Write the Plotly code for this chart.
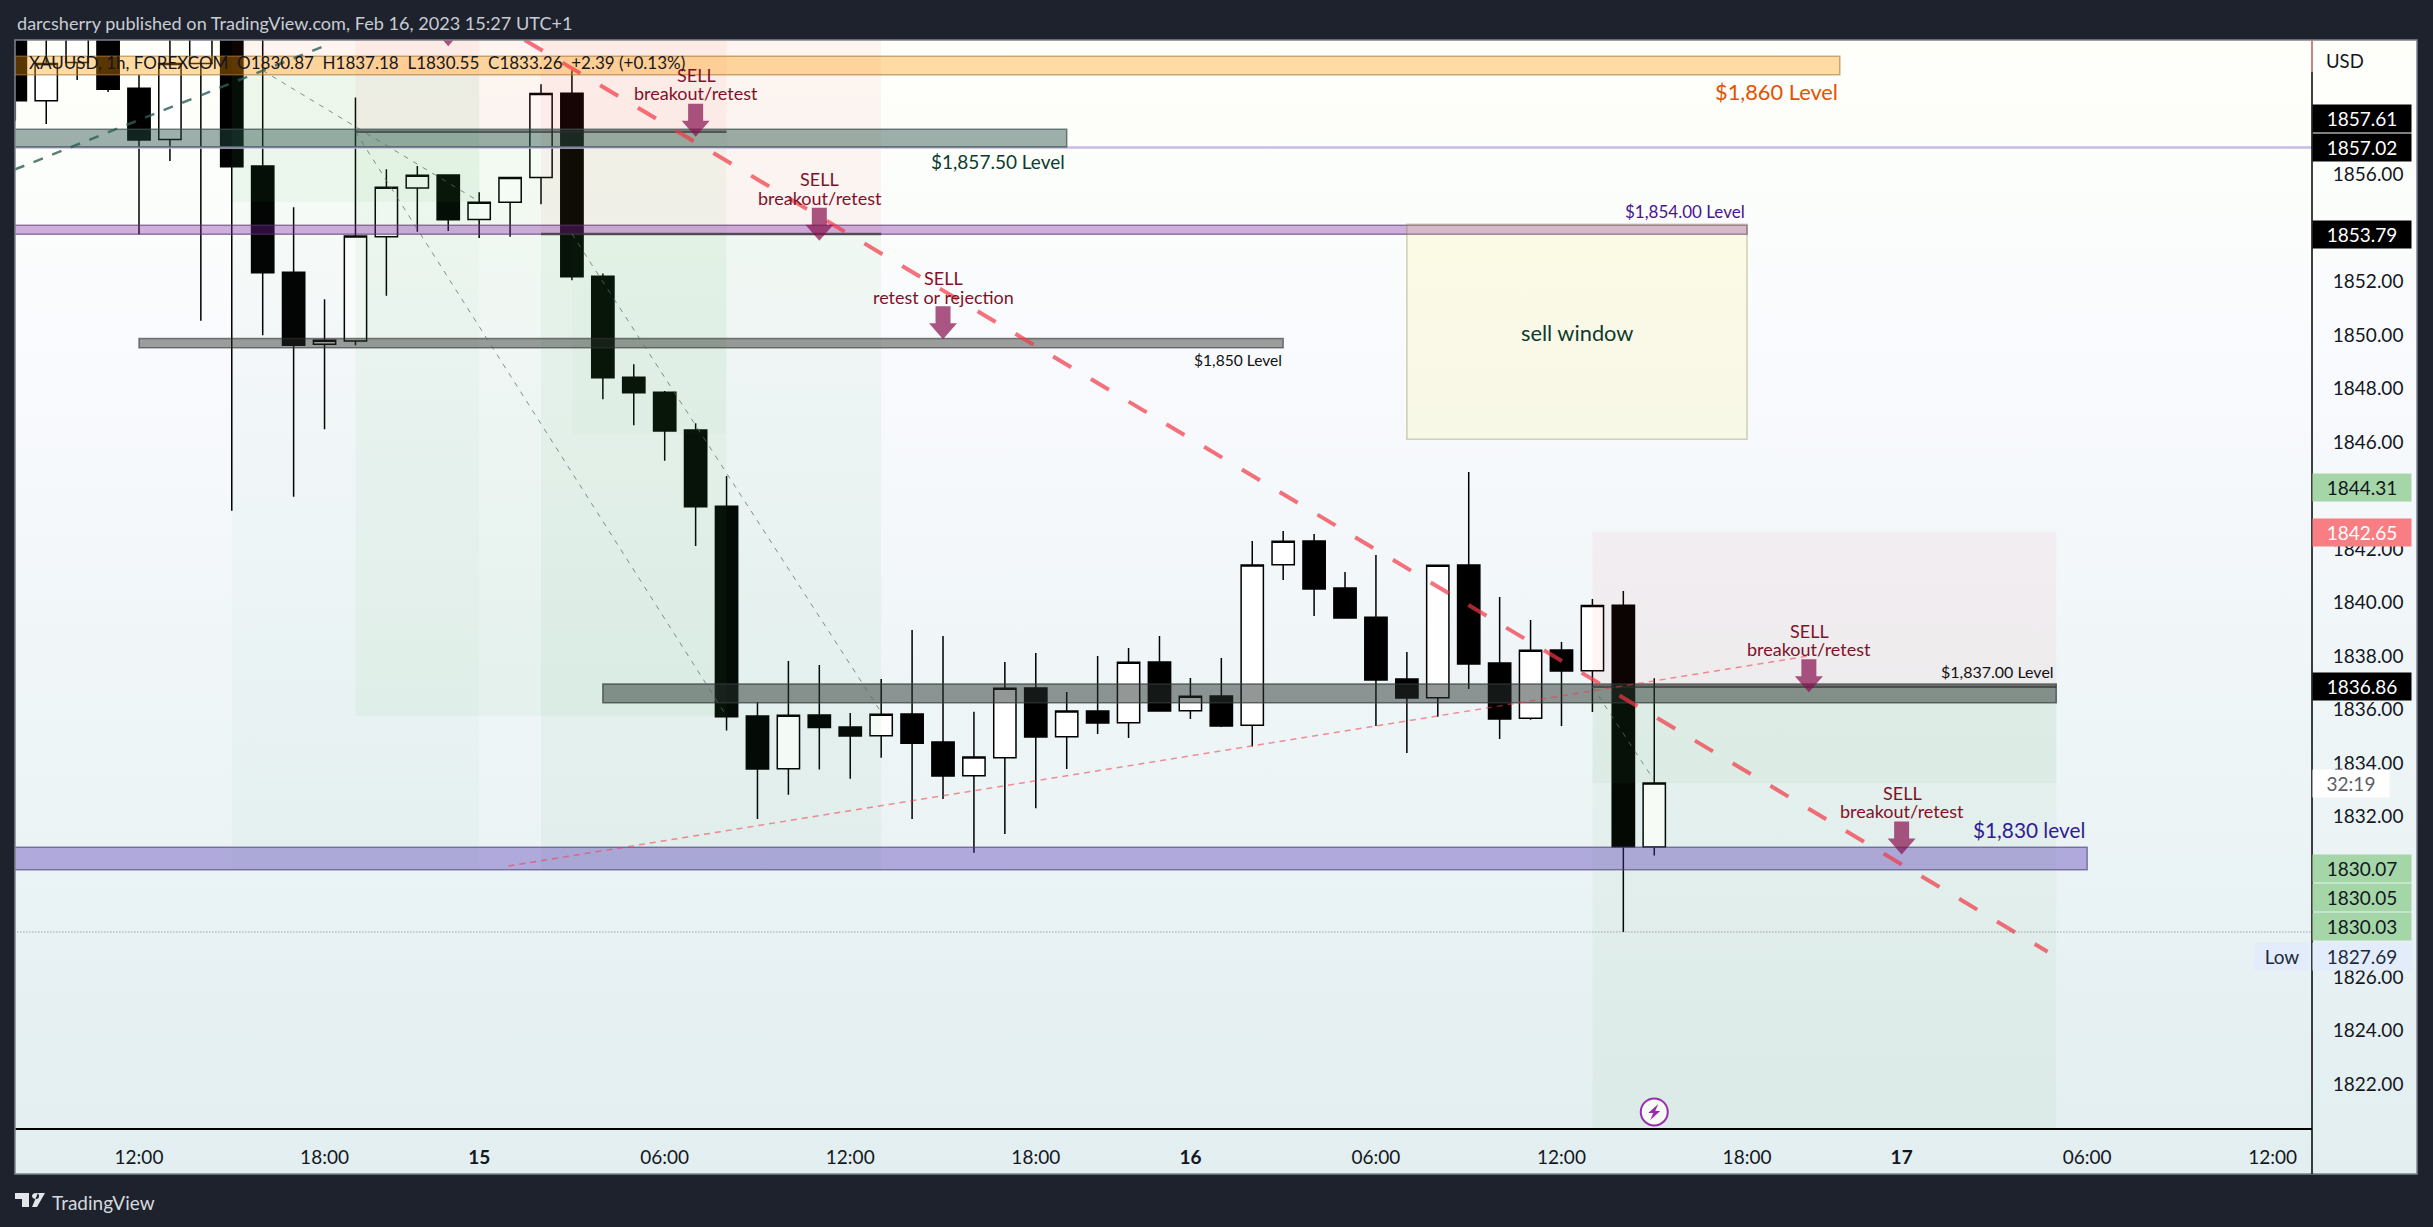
import urllib.parse
import plotly.graph_objects as go

bars = list(range(-4, 50))
opens = [1863, 1858.77, 1860.2, 1862.5, 1859.24, 1857.32, 1860.16, 1862.5, 1856.33, 1852.36, 1849.66, 1849.79, 1853.68, 1855.51, 1855.99, 1854.33, 1854.97, 1855.9,
         1859.05, 1852.21, 1848.43, 1847.87, 1846.46, 1843.61, 1835.76, 1833.79, 1835.8, 1835.35, 1835.03, 1835.84, 1834.79, 1833.53, 1834.2, 1836.81, 1834.99, 1835.95,
         1835.51, 1837.78, 1835.96, 1836.51, 1835.42, 1841.42, 1842.31, 1840.55, 1839.46, 1837.15, 1836.45, 1841.41, 1837.75, 1835.68, 1838.23, 1837.46, 1839.91, 1830.87]
highs = [1864, 1862.5, 1863, 1863.5, 1859.73, 1862.5, 1863, 1863.5, 1862, 1854.79, 1851.35, 1858.89, 1856.21, 1856.33, 1856.0, 1855.35, 1855.9, 1859.39,
         1859.9, 1852.31, 1848.92, 1847.92, 1846.71, 1844.74, 1836.29, 1837.82, 1837.67, 1835.88, 1837.15, 1838.98, 1838.76, 1835.92, 1837.78, 1838.12, 1836.66, 1838.01,
         1838.31, 1838.76, 1837.19, 1837.93, 1842.31, 1842.68, 1842.57, 1841.15, 1841.78, 1838.16, 1841.4, 1844.89, 1840.21, 1839.35, 1838.53, 1840.14, 1840.44, 1837.18]
lows = [1858.02, 1857.9, 1859.54, 1859.1, 1853.78, 1856.52, 1850.54, 1843.44, 1850.0, 1843.96, 1846.49, 1849.63, 1851.48, 1853.87, 1853.9, 1853.64, 1853.68, 1854.9,
        1852.06, 1847.61, 1846.64, 1845.31, 1842.12, 1835.22, 1831.91, 1832.82, 1833.76, 1833.42, 1834.2, 1831.91, 1832.66, 1830.65, 1831.35, 1832.32, 1833.78, 1835.09,
        1834.94, 1835.92, 1835.65, 1835.35, 1834.62, 1840.85, 1839.5, 1839.43, 1835.39, 1834.38, 1835.74, 1836.77, 1834.9, 1835.62, 1835.39, 1835.91, 1827.69, 1830.55]
closes = [1858.77, 1860.16, 1862.5, 1859.2, 1857.3, 1860.16, 1862.5, 1856.3, 1852.34, 1849.63, 1849.81, 1853.71, 1855.53, 1855.98, 1854.32, 1854.97, 1855.9, 1859.04,
          1852.19, 1848.41, 1847.85, 1846.42, 1843.59, 1835.74, 1833.78, 1835.79, 1835.33, 1835.02, 1835.83, 1834.75, 1833.52, 1834.23, 1836.8, 1834.98, 1835.95, 1835.5,
          1837.77, 1835.95, 1836.5, 1835.39, 1841.41, 1842.3, 1840.51, 1839.43, 1837.11, 1836.44, 1841.4, 1837.71, 1835.65, 1838.22, 1837.45, 1839.9, 1830.88, 1833.26]

x_tick_bars = [0, 6, 11, 17, 23, 29, 34, 40, 46, 52, 57, 63, 69]
x_tick_labels = ["12:00", "18:00", "<b>15</b>", "06:00", "12:00", "18:00", "<b>16</b>", "06:00", "12:00", "18:00", "<b>17</b>", "06:00", "12:00"]
y_ticks = [1822, 1824, 1826, 1832, 1834, 1836, 1838, 1840, 1842, 1846, 1848, 1850, 1852, 1856]

# horizontal level bands: start bar, end bar, upper, lower
band_start = [-5, -5, -5, 0, 15, -5]
band_end = [55, 30, 52, 37, 62, 63]
band_top = [1860.43, 1857.7, 1854.11, 1849.88, 1836.96, 1830.86]
band_bottom = [1859.74, 1857.04, 1853.78, 1849.53, 1836.26, 1830.02]

# position-tool zones: start bar, end bar, price a, price b
zone_start = [3, 3, 3, 7, 7, 13, 13, 14, 47, 47, 47]
zone_end = [11, 11, 11, 19, 19, 24, 24, 19, 62, 62, 62]
zone_a = [1859.74, 1859.74, 1859.74, 1857.61, 1857.61, 1853.79, 1853.79, 1853.79, 1836.86, 1836.86, 1836.86]
zone_b = [1863, 1854.98, 1830.02, 1863, 1835.76, 1863, 1830.02, 1846.3, 1842.65, 1833.26, 1819]

arrow_bars = [10, 18, 22, 26, 54, 57]
arrow_tips = [1860.81, 1857.42, 1853.53, 1849.85, 1836.65, 1830.59]

W, H = 2433, 1227
L, R, T, B = 15, 2312, 40, 1128
XR = [-4.01, 70.27]
YR = [1820.36, 1861.04]


def fx(px):
    return (px - L) / (R - L)


def fy(px):
    return 1 - (px - T) / (B - T)


RED = "rgba(244,67,54,0.05)"
shapes = []


def green(a):
    return f"rgba(76,175,80,{a})"


zone_fill = [RED, green(0.06), green(0.03), RED, green(0.055), RED, green(0.06), green(0.025), RED, green(0.05), green(0.05)]
for s, e, a, b, c in zip(zone_start, zone_end, zone_a, zone_b, zone_fill):
    shapes.append(dict(type="rect", xref="x", yref="y", x0=s, x1=e, y0=a, y1=b, fillcolor=c, line_width=0, layer="above"))

# gentle level line
shapes.append(dict(type="line", xref="x", yref="y", x0=-5, x1=71, y0=1857.02, y1=1857.02, line=dict(color="#C9BBE4", width=2.5)))

band_fill = ["rgba(255,152,0,0.35)", "rgba(40,80,70,0.45)", "rgba(123,31,162,0.35)", "rgba(40,45,40,0.45)", "rgba(40,50,45,0.5)", "rgba(76,45,175,0.37)"]
band_line = ["rgba(170,120,50,0.6)", "rgba(60,80,80,0.7)", "rgba(90,50,110,0.6)", "rgba(50,50,50,0.6)", "rgba(50,60,55,0.7)", "rgba(70,60,120,0.6)"]
for s, e, t, b, c, l in zip(band_start, band_end, band_top, band_bottom, band_fill, band_line):
    shapes.append(dict(type="rect", xref="x", yref="y", x0=s, x1=e, y0=b, y1=t, fillcolor=c, line=dict(color=l, width=1.5), layer="above"))

# sell window
shapes.append(dict(type="rect", xref="x", yref="y", x0=41, x1=52, y0=1846.11, y1=1854.15, fillcolor="rgba(255,240,100,0.15)", line=dict(color="rgba(130,130,70,0.35)", width=1.5)))

# entry lines of the position tools
for s, e, p in [(7, 19, 1857.61), (13, 24, 1853.79), (47, 62, 1836.86)]:
    shapes.append(dict(type="line", xref="x", yref="y", x0=s, x1=e, y0=p, y1=p, line=dict(color="rgba(45,45,45,0.65)", width=2.5)))

# thin diagonals
for x0, y0, x1, y1 in [(4, 1859.9, 11, 1855.0), (7, 1857.61, 19, 1835.76), (14, 1853.79, 24, 1835.9), (47, 1836.86, 49, 1833.35)]:
    shapes.append(dict(type="line", xref="x", yref="y", x0=x0, x1=x1, y0=y0, y1=y1, line=dict(color="rgba(90,110,100,0.75)", width=1, dash="5px,6px")))

# trend lines
shapes.append(dict(type="line", xref="x", yref="y", x0=-4.01, x1=6.2, y0=1856.2, y1=1860.91, line=dict(color="rgba(45,95,85,0.8)", width=2.5, dash="10px,10px")))
shapes.append(dict(type="line", xref="x", yref="y", x0=11.95, x1=54.06, y0=1830.16, y1=1838.02, line=dict(color="rgba(242,54,69,0.55)", width=1.5, dash="6px,5px")))
shapes.append(dict(type="line", xref="x", yref="y", x0=12.47, x1=61.72, y0=1861.04, y1=1826.95, line=dict(color="rgba(242,54,69,0.7)", width=4, dash="21px,23px")))

# low dotted line
shapes.append(dict(type="line", xref="x", yref="y", x0=-5, x1=71, y0=1827.69, y1=1827.69, line=dict(color="rgba(90,100,100,0.8)", width=1, dash="1px,2px")))

# sell arrows
for b, p in zip(arrow_bars, arrow_tips):
    shapes.append(dict(type="path", xref="x", yref="y", xsizemode="pixel", ysizemode="pixel", xanchor=b, yanchor=p,
                       path="M-7.5,33 L7.5,33 L7.5,16 L14,16 L0,0 L-14,16 L-7.5,16 Z", fillcolor="rgba(136,14,79,0.7)", line_width=0, layer="above"))

# lightning bolt
shapes.append(dict(type="path", xref="x", yref="y", xsizemode="pixel", ysizemode="pixel", xanchor=49, yanchor=1820.96,
                   path="M4,8 L-6,-1 L-1,-1 L-4,-8 L6,1 L1,1 Z", fillcolor="#9C27B0", line_width=0, layer="above"))

# frame and axis extras
shapes.append(dict(type="rect", xref="paper", yref="paper", x0=0, x1=fx(2417), y0=fy(1174), y1=1, line=dict(color="#7E838D", width=1.5), layer="above"))
shapes.append(dict(type="line", xref="paper", yref="paper", x0=1, x1=1, y0=fy(1174), y1=1, line=dict(color="#000000", width=1.5)))
shapes.append(dict(type="line", xref="paper", yref="paper", x0=1, x1=1, y0=fy(72), y1=1, line=dict(color="#F49AA0", width=1.5)))
# logo
shapes.append(dict(type="path", xref="paper", yref="paper", xsizemode="pixel", ysizemode="pixel", xanchor=fx(15), yanchor=fy(1193),
                   path="M0,0 L14,0 L14,-14 L7,-14 L7,-6 L0,-6 Z M17,-3 C17,-1 19,0 21,0 C23,0 24,-1 24,-3 C24,-5 23,-6 21,-6 C19,-6 17,-5 17,-3 Z M22,-14 L30,0 L23,0 L17,-14 Z",
                   fillcolor="#E2E5EA", line_width=0, layer="above"))

FONT = "Lato"
ann = []


def text(x, y, s, size, color, anchor="center", **kw):
    ann.append(dict(xref="paper", yref="paper", x=fx(x), y=fy(y), text=s, showarrow=False, xanchor=anchor, yanchor="middle",
                    font=dict(family=FONT, size=size, color=color), **kw))


SELL_RED = "#7F1229"
for x, y1, y2, line in [(696.4, 75, 93, "breakout/retest"), (819.6, 179, 197.7, "breakout/retest"), (943.8, 277.7, 296.7, "retest or rejection"),
                         (1809, 630.7, 649.3, "breakout/retest"), (1902, 792.7, 811.3, "breakout/retest")]:
    text(x, y1, "SELL", 18, SELL_RED)
    text(x, y2, line, 18, SELL_RED)

text(1840, 91.7, "$1,860 Level", 21.8, "#E65100", "right")
text(1067, 161.7, "$1,857.50 Level", 19, "#0D3B2E", "right")
text(1747, 211.7, "$1,854.00 Level", 17, "#4A148C", "right")
text(1284, 360, "$1,850 Level", 15.6, "#111111", "right")
text(2056, 671.7, "$1,837.00 Level", 16, "#111111", "right")
text(2087, 829, "$1,830 level", 20.8, "#311B92", "right")
text(1577, 332.3, "sell window", 21.8, "#0D3B2E")

text(15, 23, "darcsherry published on TradingView.com, Feb 16, 2023 15:27 UTC+1", 18.1, "#C8CCD4", "left")
text(27, 63, "XAUUSD, 1h, FOREXCOM&nbsp;&nbsp;O1830.87&nbsp;&nbsp;H1837.18&nbsp;&nbsp;L1830.55&nbsp;&nbsp;C1833.26&nbsp;&nbsp;+2.39 (+0.13%)", 17, "#131722", "left")
text(50, 1202, "TradingView", 19, "#D6D9DF", "left")
text(2345, 60.6, "USD", 18.5, "#131722")

price_boxes = [("1857.61", 118.2, "#000000", "#FFFFFF"), ("1857.02", 147.5, "#000000", "#FFFFFF"), ("1853.79", 234.6, "#000000", "#FFFFFF"),
               ("1844.31", 487.5, "#A5D6A7", "#131722"), ("1842.65", 532.3, "#F87E83", "#FFFFFF"), ("1836.86", 686.3, "#000000", "#FFFFFF"),
               ("1830.07", 868.4, "#A5D6A7", "#131722"), ("1830.05", 897.6, "#A5D6A7", "#131722"), ("1830.03", 926.5, "#A5D6A7", "#131722"),
               ("1827.69", 956.6, "#E2ECFA", "#1E2A3C")]
for s, y, bg, fg in price_boxes:
    ann.append(dict(xref="paper", yref="paper", x=fx(2312), y=fy(y), text=s, showarrow=False, xanchor="left", yanchor="middle", width=96, height=25,
                    align="center", bgcolor=bg, borderpad=1, font=dict(family=FONT, size=19, color=fg)))
ann.append(dict(xref="paper", yref="paper", x=fx(2312), y=fy(783.2), text="32:19", showarrow=False, xanchor="left", yanchor="middle", width=74, height=25,
                align="center", bgcolor="#FFFFFF", borderpad=1, font=dict(family=FONT, size=19, color="#5A5E66")))
ann.append(dict(xref="paper", yref="paper", x=fx(2310), y=fy(956.6), text="Low", showarrow=False, xanchor="right", yanchor="middle", width=52, height=25,
                align="center", bgcolor="#E2ECFA", borderpad=1, font=dict(family=FONT, size=19, color="#1E2A3C")))

svg = ('<svg xmlns="http://www.w3.org/2000/svg" width="100" height="100" preserveAspectRatio="none"><defs><linearGradient id="g" x1="0" y1="0" x2="0" y2="1">'
       '<stop offset="0" stop-color="#FFFFFA"/><stop offset="0.12" stop-color="#FCFEFB"/><stop offset="0.28" stop-color="#F9FAFE"/>'
       '<stop offset="0.6" stop-color="#EEF5F7"/><stop offset="1" stop-color="#E2EEF0"/></linearGradient></defs>'
       '<rect width="100" height="100" fill="url(#g)"/></svg>')

fig = go.Figure()
fig.add_trace(go.Candlestick(x=bars, open=opens, high=highs, low=lows, close=closes, whiskerwidth=0,
                             increasing=dict(fillcolor="#FFFFFF", line=dict(color="#000000", width=1.5)),
                             decreasing=dict(fillcolor="#000000", line=dict(color="#000000", width=1.5)), hoverinfo="skip", showlegend=False))
fig.add_trace(go.Scatter(x=[49], y=[1820.96], mode="markers", hoverinfo="skip", showlegend=False,
                         marker=dict(size=27, color="#FFFFFF", line=dict(color="#9C27B0", width=2))))

fig.update_layout(
    width=W, height=H, margin=dict(l=L, r=W - R, t=T, b=H - B, autoexpand=False), paper_bgcolor="#1E222D", plot_bgcolor="rgba(0,0,0,0)",
    boxgap=0.28, boxgroupgap=0, showlegend=False, shapes=shapes, annotations=ann, hovermode=False,
    images=[dict(source="data:image/svg+xml," + urllib.parse.quote(svg), xref="paper", yref="paper", x=0, y=1, sizex=fx(2417), sizey=1 - fy(1174),
                 sizing="stretch", xanchor="left", yanchor="top", layer="below")],
    xaxis=dict(range=XR, rangeslider=dict(visible=False), showgrid=False, zeroline=False, tickmode="array", tickvals=x_tick_bars, ticktext=x_tick_labels,
               ticks="outside", ticklen=11, tickcolor="rgba(0,0,0,0)", showline=True, linecolor="#000000", linewidth=1.5,
               tickfont=dict(family=FONT, size=19, color="#131722")),
    yaxis=dict(range=YR, side="right", showgrid=False, zeroline=False, tickmode="array", tickvals=y_ticks, tickformat=".2f",
               ticks="outside", ticklen=16, tickcolor="rgba(0,0,0,0)", showline=False,
               tickfont=dict(family=FONT, size=19, color="#131722")),
)
fig.write_html("out.html", config=dict(displayModeBar=False),
               post_script="document.body.style.margin='0';document.body.style.overflow='hidden';document.body.style.background='#1E222D';")
